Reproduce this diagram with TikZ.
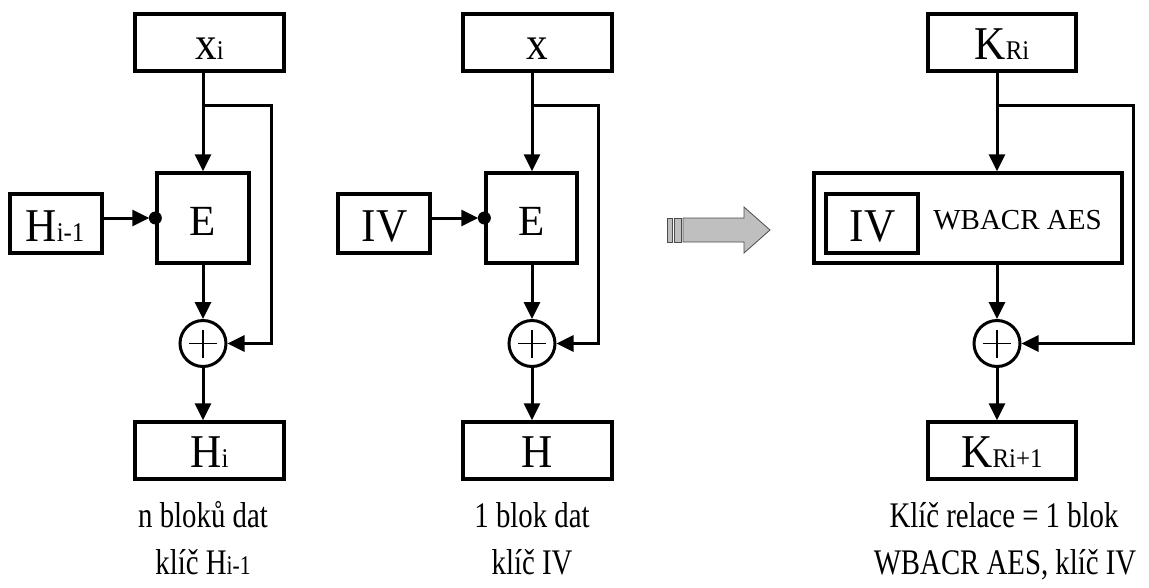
\documentclass[tikz,border=0pt]{standalone}
\usepackage{fontspec}
\usepackage{graphicx}
\setmainfont{Liberation Serif}
\usetikzlibrary{arrows.meta}
\newcommand{\bigtxt}{\fontsize{47}{50}\selectfont}
\newcommand{\etxt}{\fontsize{43}{46}\selectfont}
\newcommand{\subtxt}[1]{{\fontsize{27}{30}\selectfont #1}}
\newcommand{\captxt}{\fontsize{29}{32}\selectfont}
\newcommand{\capbig}{\fontsize{36}{40}\selectfont}
\newcommand{\sqz}[2]{\scalebox{#1}[1]{#2}}
\tikzset{
  box/.style={draw, line width=3.3pt, inner sep=0pt, rectangle},
  xorc/.style={draw, circle, line width=3pt, minimum size=46pt, inner sep=0pt},
  plusl/.style={line width=1.6pt},
  conn/.style={line width=3pt, -{Triangle[length=17pt,width=16pt]}},
  lbl/.style={anchor=base, inner sep=0pt},
  dotc/.style={fill=black},
  grayshape/.style={fill=gray!50, draw=gray!60!black, line width=0.8pt}
}
\begin{document}
\begin{tikzpicture}[x=1pt,y=-1pt]
\useasboundingbox (0,0) rectangle (1149,587);

% ---------- left diagram ----------
\node[box, minimum width=149pt, minimum height=57pt] (xi) at (209.5,42.5) {};
\node[lbl] (xit) at (209.5,59) {\sqz{0.92}{\bigtxt x\subtxt{i}}};
\node[box, minimum width=92pt, minimum height=90pt] (E1) at (203,218) {};
\node[lbl] (E1t) at (203,235) {\etxt E};
\node[box, minimum width=92pt, minimum height=59pt] (h1) at (56,223.5) {};
\node[lbl] (h1t) at (55,241) {\sqz{0.92}{\bigtxt H\subtxt{i-1}}};
\node[xorc] (c1) at (203,343.5) {};
\draw[plusl] ([xshift=-14pt]c1.center) -- ([xshift=14pt]c1.center);
\draw[plusl] ([yshift=-14pt]c1.center) -- ([yshift=14pt]c1.center);
\node[box, minimum width=149pt, minimum height=57pt] (ho) at (209.5,450.5) {};
\node[lbl] (hot) at (209.5,467) {\sqz{0.92}{\bigtxt H\subtxt{i}}};

\coordinate (j1) at (203,105);
\coordinate (f1) at (271,105);
\draw[conn] (xi.south -| E1.north) -- (E1.north);
\draw[conn] (E1.south) -- (c1.north);
\draw[conn] (c1.south) -- (ho.north -| c1.south);
\draw[conn] (j1) -- (f1) -- (f1 |- c1.east) -- (c1.east);
\draw[conn, shorten >=6pt] (h1.east |- E1.west) -- (E1.west);
\fill[dotc] (E1.west) circle (6.5pt);

% ---------- middle diagram ----------
\node[box, minimum width=149pt, minimum height=57pt] (xb) at (537.5,42.5) {};
\node[lbl] (xbt) at (537.5,59) {\sqz{0.92}{\bigtxt x}};
\node[box, minimum width=91pt, minimum height=90pt] (E2) at (531.5,218) {};
\node[lbl] (E2t) at (531.5,235) {\etxt E};
\node[box, minimum width=92pt, minimum height=59pt] (iv1) at (384,223.5) {};
\node[lbl] (iv1t) at (384.5,241) {\sqz{0.92}{\bigtxt IV}};
\node[xorc] (c2) at (532,343.5) {};
\draw[plusl] ([xshift=-14pt]c2.center) -- ([xshift=14pt]c2.center);
\draw[plusl] ([yshift=-14pt]c2.center) -- ([yshift=14pt]c2.center);
\node[box, minimum width=149pt, minimum height=57pt] (hb) at (537.5,450.5) {};
\node[lbl] (hbt) at (537.5,467) {\sqz{0.92}{\bigtxt H}};

\coordinate (j2) at (532,105);
\coordinate (f2) at (598,105);
\draw[conn] (xb.south -| c2) -- (E2.north -| c2);
\draw[conn] (E2.south -| c2) -- (c2.north);
\draw[conn] (c2.south) -- (hb.north -| c2.south);
\draw[conn] (j2) -- (f2) -- (f2 |- c2.east) -- (c2.east);
\draw[conn, shorten >=6pt] (iv1.east |- E2.west) -- (E2.west);
\fill[dotc] (E2.west) circle (6.5pt);

% ---------- gray arrow ----------
\draw[grayshape]
  (683,218) -- (744,218) -- (744,207) -- (770,230) -- (744,253) -- (744,242) -- (683,242) -- cycle;
\draw[grayshape] (667,218) rectangle (672,242);
\draw[grayshape] (674,218) rectangle (681,242);

% ---------- right diagram ----------
\node[box, minimum width=148pt, minimum height=57pt] (kr) at (1002,42.5) {};
\node[lbl] (krt) at (1002,59) {\sqz{0.92}{\bigtxt K\subtxt{Ri}}};
\node[box, minimum width=308pt, minimum height=90pt] (big) at (968,218) {};
\node[box, minimum width=92pt, minimum height=59pt] (iv2) at (872,223.5) {};
\node[lbl] (iv2t) at (872.5,241) {\sqz{0.92}{\bigtxt IV}};
\node[lbl] (wt) at (1017.5,229) {\captxt WBACR AES};
\node[xorc] (c3) at (997,343.5) {};
\draw[plusl] ([xshift=-14pt]c3.center) -- ([xshift=14pt]c3.center);
\draw[plusl] ([yshift=-14pt]c3.center) -- ([yshift=14pt]c3.center);
\node[box, minimum width=148pt, minimum height=57pt] (ko) at (1002,450.5) {};
\node[lbl] (kot) at (1002,467) {\sqz{0.92}{\bigtxt K\subtxt{Ri+1}}};

\coordinate (j3) at (997,105);
\coordinate (f3) at (1133,105);
\draw[conn] (kr.south -| c3) -- (big.north -| c3);
\draw[conn] (big.south -| c3) -- (c3.north);
\draw[conn] (c3.south) -- (ko.north -| c3.south);
\draw[conn] (j3) -- (f3) -- (f3 |- c3.east) -- (c3.east);

% ---------- captions ----------
\node[lbl] (cap1a) at (203,527) {\sqz{0.8}{\capbig n bloků dat}};
\node[lbl] (cap1b) at (203,574) {\sqz{0.8}{\capbig klíč H\subtxt{i-1}}};
\node[lbl] (cap2a) at (532,527) {\sqz{0.8}{\capbig 1 blok dat}};
\node[lbl] (cap2b) at (532,574) {\sqz{0.8}{\capbig klíč IV}};
\node[lbl] (cap3a) at (1004,527) {\sqz{0.8}{\capbig Klíč relace = 1 blok}};
\node[lbl] (cap3b) at (1005,574) {\sqz{0.8}{\capbig WBACR AES, klíč IV}};
\end{tikzpicture}
\end{document}
